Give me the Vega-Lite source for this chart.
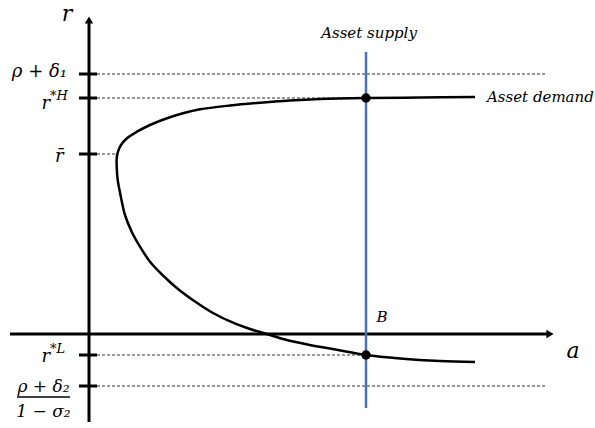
{
  "$schema": "https://vega.github.io/schema/vega-lite/v6.json",
  "width": 595,
  "height": 428,
  "padding": 0,
  "autosize": {"type": "fit", "contains": "padding"},
  "background": "white",
  "config": {"view": {"stroke": null}},
  "layer": [
    {
      "data": {"values": [
        {"a": 0.08, "a2": 4.56, "r": 2.60},
        {"a": 0.08, "a2": 2.77, "r": 2.36},
        {"a": 0.08, "a2": 0.28, "r": 1.80},
        {"a": 0.08, "a2": 2.77, "r": -0.21},
        {"a": 0.08, "a2": 4.56, "r": -0.52}
      ]},
      "mark": {"type": "rule", "strokeDash": [3, 2], "strokeWidth": 1, "color": "#333"},
      "encoding": {
        "x": {"field": "a", "type": "quantitative", "scale": {"domain": [-0.89, 5.06], "nice": false, "zero": false}, "axis": null},
        "x2": {"field": "a2"},
        "y": {"field": "r", "type": "quantitative", "scale": {"domain": [-0.94, 3.34], "nice": false, "zero": false}, "axis": null}
      }
    },
    {
      "data": {"values": [
        {"a": -0.10, "a2": 0.08, "r": 2.60},
        {"a": -0.10, "a2": 0.08, "r": 2.36},
        {"a": -0.10, "a2": 0.08, "r": 1.80},
        {"a": -0.10, "a2": 0.08, "r": -0.21},
        {"a": -0.10, "a2": 0.08, "r": -0.52},
        {"a": -0.79, "a2": 4.59, "r": 0}
      ]},
      "mark": {"type": "rule", "strokeWidth": 3, "color": "black"},
      "encoding": {
        "x": {"field": "a", "type": "quantitative"},
        "x2": {"field": "a2"},
        "y": {"field": "r", "type": "quantitative"}
      }
    },
    {
      "data": {"values": [
        {"a": 0, "r": -0.88, "r2": 3.14}
      ]},
      "mark": {"type": "rule", "strokeWidth": 3, "color": "black"},
      "encoding": {
        "x": {"field": "a", "type": "quantitative"},
        "y": {"field": "r", "type": "quantitative"},
        "y2": {"field": "r2"}
      }
    },
    {
      "data": {"values": [
        {"a": 2.77, "r": -0.74, "r2": 2.82}
      ]},
      "mark": {"type": "rule", "strokeWidth": 2.5, "color": "#4472C4"},
      "encoding": {
        "x": {"field": "a", "type": "quantitative"},
        "y": {"field": "r", "type": "quantitative"},
        "y2": {"field": "r2"}
      }
    },
    {
      "data": {"values": [
        {"a": 0, "r": 3.14}
      ]},
      "mark": {"type": "point", "shape": "triangle-up", "filled": true, "color": "black", "opacity": 1, "size": 70},
      "encoding": {
        "x": {"field": "a", "type": "quantitative"},
        "y": {"field": "r", "type": "quantitative"}
      }
    },
    {
      "data": {"values": [
        {"a": 4.61, "r": 0}
      ]},
      "mark": {"type": "point", "shape": "triangle-right", "filled": true, "color": "black", "opacity": 1, "size": 70},
      "encoding": {
        "x": {"field": "a", "type": "quantitative"},
        "y": {"field": "r", "type": "quantitative"}
      }
    },
    {
      "data": {"values": [
        {"i": 1, "a": 3.86, "r": 2.37},
        {"i": 2, "a": 3.31, "r": 2.365},
        {"i": 3, "a": 2.77, "r": 2.36},
        {"i": 4, "a": 2.31, "r": 2.35},
        {"i": 5, "a": 2.01, "r": 2.335},
        {"i": 6, "a": 1.68, "r": 2.31},
        {"i": 7, "a": 1.41, "r": 2.285},
        {"i": 8, "a": 1.11, "r": 2.247},
        {"i": 9, "a": 0.94, "r": 2.207},
        {"i": 10, "a": 0.78, "r": 2.157},
        {"i": 11, "a": 0.61, "r": 2.09},
        {"i": 12, "a": 0.48, "r": 2.023},
        {"i": 13, "a": 0.38, "r": 1.957},
        {"i": 14, "a": 0.32, "r": 1.89},
        {"i": 15, "a": 0.29, "r": 1.823},
        {"i": 16, "a": 0.277, "r": 1.757},
        {"i": 17, "a": 0.277, "r": 1.673},
        {"i": 18, "a": 0.287, "r": 1.54},
        {"i": 19, "a": 0.305, "r": 1.44},
        {"i": 20, "a": 0.325, "r": 1.34},
        {"i": 21, "a": 0.36, "r": 1.19},
        {"i": 22, "a": 0.427, "r": 1.023},
        {"i": 23, "a": 0.51, "r": 0.873},
        {"i": 24, "a": 0.61, "r": 0.723},
        {"i": 25, "a": 0.74, "r": 0.585},
        {"i": 26, "a": 0.89, "r": 0.45},
        {"i": 27, "a": 1.06, "r": 0.325},
        {"i": 28, "a": 1.24, "r": 0.21},
        {"i": 29, "a": 1.44, "r": 0.113},
        {"i": 30, "a": 1.61, "r": 0.05},
        {"i": 31, "a": 1.777, "r": 0.0},
        {"i": 32, "a": 1.977, "r": -0.06},
        {"i": 33, "a": 2.21, "r": -0.11},
        {"i": 34, "a": 2.49, "r": -0.16},
        {"i": 35, "a": 2.77, "r": -0.21},
        {"i": 36, "a": 3.11, "r": -0.245},
        {"i": 37, "a": 3.51, "r": -0.27},
        {"i": 38, "a": 3.86, "r": -0.28}
      ]},
      "mark": {"type": "line", "color": "black", "strokeWidth": 2.5, "interpolate": "catmull-rom"},
      "encoding": {
        "x": {"field": "a", "type": "quantitative"},
        "y": {"field": "r", "type": "quantitative"},
        "order": {"field": "i", "type": "quantitative"}
      }
    },
    {
      "data": {"values": [
        {"a": 2.77, "r": 2.36},
        {"a": 2.77, "r": -0.21}
      ]},
      "mark": {"type": "point", "shape": "circle", "filled": true, "color": "black", "opacity": 1, "size": 90},
      "encoding": {
        "x": {"field": "a", "type": "quantitative"},
        "y": {"field": "r", "type": "quantitative"}
      }
    },
    {
      "data": {"values": [
        {"a": -0.22, "r": 2.62, "label": "ρ + δ₁"},
        {"a": -0.39, "r": 2.30, "label": "r"},
        {"a": -0.39, "r": -0.23, "label": "r"},
        {"a": -0.255, "r": 1.77, "label": "r̄"}
      ]},
      "mark": {"type": "text", "align": "right", "baseline": "middle", "font": "DejaVu Serif", "fontStyle": "italic", "fontSize": 18, "color": "black"},
      "encoding": {
        "x": {"field": "a", "type": "quantitative"},
        "y": {"field": "r", "type": "quantitative"},
        "text": {"field": "label"}
      }
    },
    {
      "data": {"values": [
        {"a": -0.39, "r": 2.38, "label": "*H"},
        {"a": -0.39, "r": -0.15, "label": "*L"}
      ]},
      "mark": {"type": "text", "align": "left", "baseline": "middle", "font": "DejaVu Serif", "fontStyle": "italic", "fontSize": 13, "color": "black"},
      "encoding": {
        "x": {"field": "a", "type": "quantitative"},
        "y": {"field": "r", "type": "quantitative"},
        "text": {"field": "label"}
      }
    },
    {
      "data": {"values": [
        {"a": -0.455, "r": -0.525, "label": "ρ + δ₂"},
        {"a": -0.455, "r": -0.775, "label": "1 − σ₂"}
      ]},
      "mark": {"type": "text", "align": "center", "baseline": "middle", "font": "DejaVu Serif", "fontStyle": "italic", "fontSize": 17, "color": "black"},
      "encoding": {
        "x": {"field": "a", "type": "quantitative"},
        "y": {"field": "r", "type": "quantitative"},
        "text": {"field": "label"}
      }
    },
    {
      "data": {"values": [
        {"a": -0.72, "a2": -0.19, "r": -0.63}
      ]},
      "mark": {"type": "rule", "strokeWidth": 1.5, "color": "black"},
      "encoding": {
        "x": {"field": "a", "type": "quantitative"},
        "x2": {"field": "a2"},
        "y": {"field": "r", "type": "quantitative"}
      }
    },
    {
      "data": {"values": [
        {"a": -0.22, "r": 3.20, "label": "r"},
        {"a": 4.84, "r": -0.17, "label": "a"}
      ]},
      "mark": {"type": "text", "align": "center", "baseline": "middle", "font": "DejaVu Serif", "fontStyle": "italic", "fontSize": 22, "color": "black"},
      "encoding": {
        "x": {"field": "a", "type": "quantitative"},
        "y": {"field": "r", "type": "quantitative"},
        "text": {"field": "label"}
      }
    },
    {
      "data": {"values": [
        {"a": 2.80, "r": 3.01, "label": "Asset supply"},
        {"a": 2.93, "r": 0.17, "label": "B"}
      ]},
      "mark": {"type": "text", "align": "center", "baseline": "middle", "font": "DejaVu Serif", "fontStyle": "italic", "fontSize": 15, "color": "black"},
      "encoding": {
        "x": {"field": "a", "type": "quantitative"},
        "y": {"field": "r", "type": "quantitative"},
        "text": {"field": "label"}
      }
    },
    {
      "data": {"values": [
        {"a": 3.98, "r": 2.37, "label": "Asset demand"}
      ]},
      "mark": {"type": "text", "align": "left", "baseline": "middle", "font": "DejaVu Serif", "fontStyle": "italic", "fontSize": 15, "color": "black"},
      "encoding": {
        "x": {"field": "a", "type": "quantitative"},
        "y": {"field": "r", "type": "quantitative"},
        "text": {"field": "label"}
      }
    }
  ]
}
